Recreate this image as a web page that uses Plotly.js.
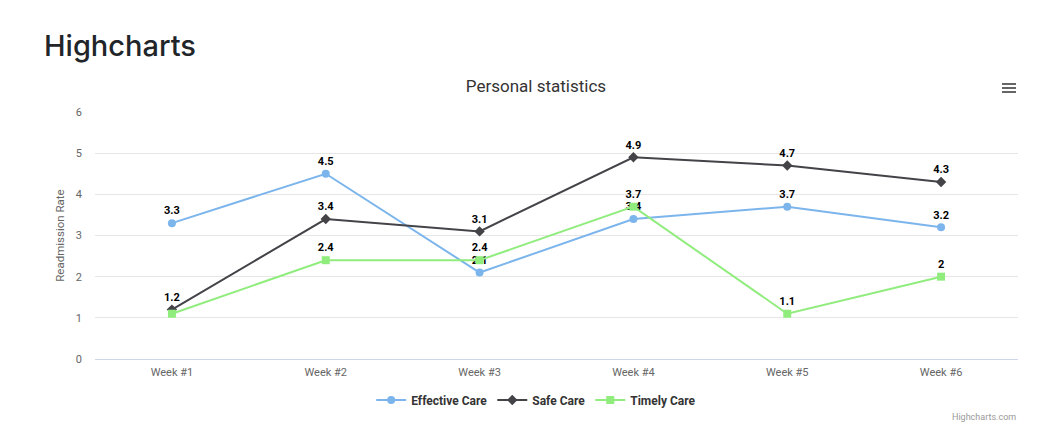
<!DOCTYPE html>
<html>
<head>
<meta charset="utf-8">
<script src="https://cdn.plot.ly/plotly-3.0.1.min.js"></script>
<style>html,body{margin:0;padding:0;background:#fff;}#chart{width:1060px;height:448px;}</style>
</head>
<body>
<div id="chart"></div>
<script>
const categories = ['Week #1', 'Week #2', 'Week #3', 'Week #4', 'Week #5', 'Week #6'];
const effectiveCare = [3.3, 4.5, 2.1, 3.4, 3.7, 3.2];
const safeCare = [1.2, 3.4, 3.1, 4.9, 4.7, 4.3];
const timelyCare = [1.1, 2.4, 2.4, 3.7, 1.1, 2];
// labels hidden where Highcharts removed overlapping data labels
const timelyHidden = [true, false, false, false, false, false];

const FONT = 'Roboto, sans-serif';
function labels(vals, hidden) {
  return vals.map((v, i) => (hidden && hidden[i]) ? '' : String(v));
}
function series(name, vals, color, symbol, size, hidden) {
  return {
    type: 'scatter', mode: 'lines+markers+text', name: name,
    x: categories, y: vals,
    text: labels(vals, hidden), textposition: 'top center',
    textfont: {family: FONT, size: 11, color: '#000', weight: 'bold'},
    line: {color: color, width: 2},
    marker: {color: color, symbol: symbol, size: size},
    hoverinfo: 'x+y+name', cliponaxis: false
  };
}
const data = [
  series('Effective Care', effectiveCare, '#7cb5ec', 'circle', 8),
  series('Safe Care', safeCare, '#434348', 'diamond', 8),
  series('Timely Care', timelyCare, '#90ed7d', 'square', 8, timelyHidden)
];
const layout = {
  width: 1060, height: 448,
  margin: {l: 95, r: 42, t: 112, b: 89},
  paper_bgcolor: '#fff', plot_bgcolor: '#fff',
  font: {family: FONT, color: '#666'},
  title: {text: 'Personal statistics', font: {family: FONT, size: 17, color: '#333'},
          xref: 'container', x: 536/1060, xanchor: 'center', yref: 'container', y: 1 - 86/448, yanchor: 'middle'},
  xaxis: {type: 'category', range: [-0.5, 5.5], showgrid: false, zeroline: false,
          showline: true, linecolor: '#ccd6eb', linewidth: 1,
          ticks: '', ticklabelstandoff: 3, tickfont: {family: FONT, size: 11, color: '#666'}, fixedrange: true},
  yaxis: {range: [0, 6], dtick: 1, showgrid: true, gridcolor: '#e6e6e6', zeroline: false,
          showline: false, ticks: '', ticklen: 0, ticklabelstandoff: 12,
          tickfont: {family: FONT, size: 11, color: '#666'},
          title: {text: 'Readmission Rate', font: {family: FONT, size: 11.5, color: '#666'}, standoff: 8},
          fixedrange: true},
  showlegend: true,
  legend: {orientation: 'h', x: 0.478, xanchor: 'center', y: -41/247, yanchor: 'middle',
           font: {family: FONT, size: 12, color: '#333', weight: 'bold'}, itemwidth: 30},
  annotations: [
    {text: 'Highcharts', xref: 'paper', yref: 'paper', x: -52/923, y: (359-45)/247,
     xanchor: 'left', yanchor: 'middle', showarrow: false, borderpad: 0,
     font: {family: 'Inter, sans-serif', size: 29, color: '#212529', weight: 500}},
    {text: 'Highcharts.com', xref: 'paper', yref: 'paper', x: 1, y: -58/247,
     xanchor: 'right', yanchor: 'middle', showarrow: false,
     font: {family: FONT, size: 9, color: '#999'}}
  ],
  shapes: [
    {type: 'line', xref: 'paper', yref: 'paper', x0: 907/923, x1: 921/923, y0: (359-84)/247, y1: (359-84)/247, line: {color: '#666', width: 2}},
    {type: 'line', xref: 'paper', yref: 'paper', x0: 907/923, x1: 921/923, y0: (359-88)/247, y1: (359-88)/247, line: {color: '#666', width: 2}},
    {type: 'line', xref: 'paper', yref: 'paper', x0: 907/923, x1: 921/923, y0: (359-92)/247, y1: (359-92)/247, line: {color: '#666', width: 2}}
  ]
};
Plotly.newPlot('chart', data, layout, {displayModeBar: false, responsive: false});
</script>
</body>
</html>
